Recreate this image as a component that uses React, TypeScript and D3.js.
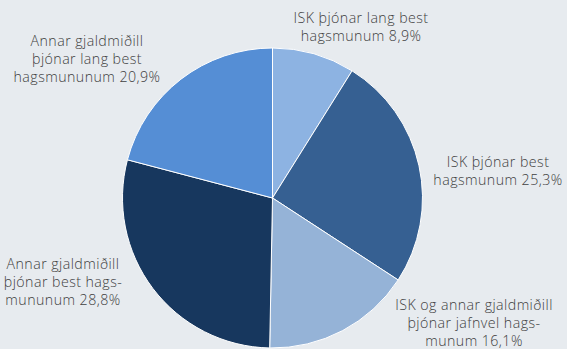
import React from "react";
import * as d3 from "d3";

const categories: string[][] = [
  ["ISK þjónar lang best", "hagsmunum 8,9%"],
  ["ISK þjónar best", "hagsmunum 25,3%"],
  ["ISK og annar gjaldmiðill", "þjónar jafnvel hags-", "munum 16,1%"],
  ["Annar gjaldmiðill", "þjónar best hags-", "mununum 28,8%"],
  ["Annar gjaldmiðill", "þjónar lang best", "hagsmununum 20,9%"],
];
const values: number[] = [8.9, 25.3, 16.1, 28.8, 20.9];
const colors: string[] = ["#8db3e2", "#366092", "#95b3d7", "#17375e", "#558ed5"];

// label anchor positions (centre x, centre y of first line)
const labelPos: [number, number][] = [
  [361, 18],
  [498, 162],
  [474, 305],
  [63, 264],
  [87, 41],
];

const W = 567;
const H = 349;
const cx = 272.5;
const cy = 198;
const R = 150;
const LINE = 18;

export default function App() {
  const pie = d3.pie<number>().sort(null).value((d) => d);
  const arcs = pie(values);
  const arc = d3.arc<d3.PieArcDatum<number>>().innerRadius(0).outerRadius(R);
  return (
    <svg
      width={W}
      height={H}
      style={{ position: "absolute", left: 0, top: 0, display: "block" }}
    >
      <rect width={W} height={H} fill="#e7ebef" />
      <g transform={`translate(${cx},${cy})`}>
        {arcs.map((a, i) => (
          <path
            key={i}
            d={arc(a) || ""}
            fill={colors[i]}
            stroke="#ffffff"
            strokeWidth={1}
            strokeLinejoin="round"
          />
        ))}
      </g>
      {categories.map((lines, i) => (
        <text
          key={i}
          textAnchor="middle"
          fontFamily="'Open Sans', sans-serif"
          fontSize={14.2}
          fontWeight={300}
          letterSpacing={0.45}
          fill="#404040"
        >
          {lines.map((l, j) => (
            <tspan key={j} x={labelPos[i][0]} y={labelPos[i][1] + 5 + j * LINE}>
              {l}
            </tspan>
          ))}
        </text>
      ))}
    </svg>
  );
}
